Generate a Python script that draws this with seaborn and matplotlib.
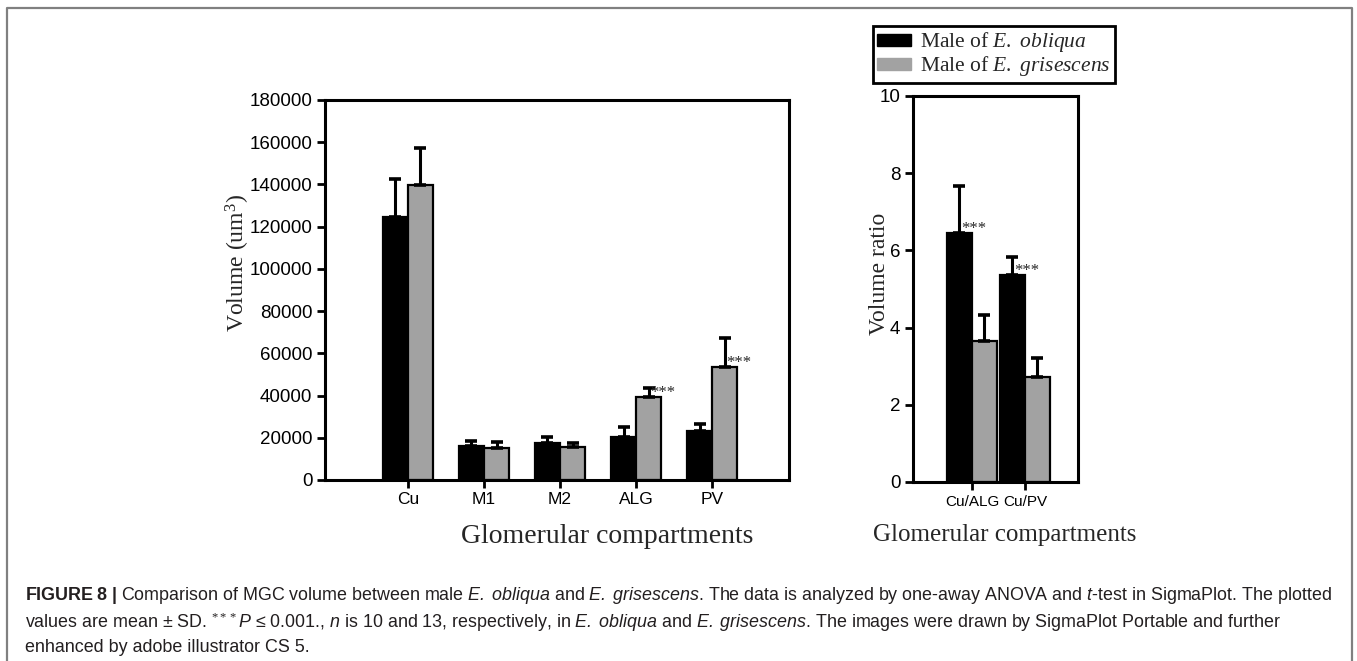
import matplotlib
matplotlib.use("Agg")
import pandas as pd
import matplotlib.pyplot as plt
import seaborn as sns
from matplotlib.patches import Patch
from matplotlib.lines import Line2D

# -----------------------------
# Data
# -----------------------------
species = ["E. obliqua", "E. grisescens"]

compartments = ["Cu", "M1", "M2", "ALG", "PV"]
obliqua_volume = [124500, 16000, 17500, 20200, 23400]
obliqua_volume_sd = [18000, 2300, 2700, 4800, 3000]
grisescens_volume = [139800, 15200, 15800, 39200, 53500]
grisescens_volume_sd = [17600, 3000, 1900, 4200, 13700]

ratios = ["Cu/ALG", "Cu/PV"]
obliqua_ratio = [6.44, 5.35]
obliqua_ratio_sd = [1.23, 0.49]
grisescens_ratio = [3.65, 2.72]
grisescens_ratio_sd = [0.67, 0.48]

# bars that carry the *** mark
volume_stars = [("E. grisescens", "ALG"), ("E. grisescens", "PV")]
ratio_stars = [("E. obliqua", "Cu/ALG"), ("E. obliqua", "Cu/PV")]

volume_df = pd.DataFrame({
    "compartment": compartments * 2,
    "value": obliqua_volume + grisescens_volume,
    "sd": obliqua_volume_sd + grisescens_volume_sd,
    "species": [species[0]] * len(compartments) + [species[1]] * len(compartments),
})
ratio_df = pd.DataFrame({
    "compartment": ratios * 2,
    "value": obliqua_ratio + grisescens_ratio,
    "sd": obliqua_ratio_sd + grisescens_ratio_sd,
    "species": [species[0]] * len(ratios) + [species[1]] * len(ratios),
})

# -----------------------------
# Style
# -----------------------------
sns.set_style("ticks")
plt.rcParams["font.family"] = ["Liberation Sans", "DejaVu Sans"]
plt.rcParams["mathtext.fontset"] = "custom"
plt.rcParams["mathtext.rm"] = "Liberation Serif"
plt.rcParams["mathtext.it"] = "Liberation Serif:italic"
plt.rcParams["mathtext.bf"] = "Liberation Sans:bold"
plt.rcParams["mathtext.sf"] = "Liberation Sans:italic"

BLACK = "#000000"
GRAY = "#a2a2a2"
palette = {species[0]: BLACK, species[1]: GRAY}
SERIF = "Liberation Serif"

W, H = 1357, 661
fig = plt.figure(figsize=(W / 100, H / 100), dpi=100)

ax1 = fig.add_axes([325 / W, 1 - 480 / H, 464 / W, 380 / H])
ax2 = fig.add_axes([913 / W, 1 - 482 / H, 165 / W, 386 / H])


def draw_panel(ax, df, cats, width, stars):
    sns.barplot(
        data=df, x="compartment", y="value", hue="species",
        order=cats, hue_order=species, palette=palette,
        width=width, errorbar=None, edgecolor="black",
        linewidth=1.6, legend=False, ax=ax,
    )
    # upper error bars only, plus the *** marks
    for container, sp in zip(ax.containers, species):
        sub = df[df["species"] == sp].set_index("compartment")
        for bar in container:
            xc = bar.get_x() + bar.get_width() / 2
            cat = cats[int(round(xc))]
            h = bar.get_height()
            ax.errorbar(xc, h, yerr=[[0], [sub.loc[cat, "sd"]]], fmt="none",
                        ecolor="black", elinewidth=2.2, capsize=4,
                        capthick=2.6, zorder=1)
            if (sp, cat) in stars:
                ax.annotate("***", xy=(xc, h), xytext=(1, 0),
                            textcoords="offset points", ha="left",
                            va="baseline", fontsize=12, family=SERIF)
    for s in ax.spines.values():
        s.set_linewidth(2.2)
        s.set_color("black")
    ax.tick_params(direction="out", length=6, width=2, labelsize=13.5,
                   pad=3, colors="black")


draw_panel(ax1, volume_df, compartments, 0.66, volume_stars)
ax1.set_ylim(0, 180000)
ax1.set_yticks(range(0, 180001, 20000))
ax1.set_xlim(-1.09, 5.01)
ax1.tick_params(axis="x", labelsize=12.5)
ax1.set_xlabel("Glomerular compartments", family=SERIF, fontsize=20)
ax1.set_ylabel(r"Volume (um$^{\mathrm{3}}$)", family=SERIF, fontsize=17)
ax1.xaxis.set_label_coords(0.608, -0.148)
ax1.xaxis.label.set_verticalalignment("center")
ax1.yaxis.set_label_coords(-0.187, 0.57)
ax1.yaxis.label.set_verticalalignment("center")

draw_panel(ax2, ratio_df, ratios, 0.94, ratio_stars)
ax2.set_ylim(0, 10)
ax2.set_yticks(range(0, 11, 2))
ax2.set_xlim(-1.11, 2.0)
ax2.tick_params(axis="x", labelsize=11)
ax2.set_xlabel("Glomerular compartments", family=SERIF, fontsize=18)
ax2.set_ylabel("Volume ratio", family=SERIF, fontsize=17)
ax2.xaxis.set_label_coords(0.557, -0.137)
ax2.xaxis.label.set_verticalalignment("center")
ax2.yaxis.set_label_coords(-0.206, 0.54)
ax2.yaxis.label.set_verticalalignment("center")

# -----------------------------
# Legend
# -----------------------------
handles = [Patch(facecolor=BLACK, edgecolor=BLACK),
           Patch(facecolor=GRAY, edgecolor=GRAY)]
labels = [r"Male of $\mathit{E.\ obliqua}$", r"Male of $\mathit{E.\ grisescens}$"]
leg = fig.legend(handles, labels, loc="upper left",
                 bbox_to_anchor=(873 / W, 1 - 26 / H), borderaxespad=0,
                 prop={"family": SERIF, "size": 15.5}, frameon=True,
                 fancybox=False, edgecolor="black", framealpha=1,
                 handlelength=1.55, handleheight=0.5, handletextpad=0.45,
                 borderpad=0.2, labelspacing=0.0)
leg.get_frame().set_linewidth(2)

# -----------------------------
# Frame and caption
# -----------------------------
fig.add_artist(Line2D([7 / W, 7 / W, 1352 / W, 1352 / W],
                      [0, 1 - 8 / H, 1 - 8 / H, 0],
                      transform=fig.transFigure, color="#808080", lw=1.6))

caption = [
    r"$\mathbf{FIGURE\ 8\ |}$ Comparison of MGC volume between male "
    r"$\mathsf{E.\ obliqua}$ and $\mathsf{E.\ grisescens}$. The data is analyzed "
    r"by one-away ANOVA and $\mathsf{t}$-test in SigmaPlot. The plotted",
    r"values are mean ± SD. $^{\mathrm{***}}\mathsf{P}$ ≤ 0.001., $\mathsf{n}$ is 10 "
    r"and 13, respectively, in $\mathsf{E.\ obliqua}$ and $\mathsf{E.\ grisescens}$. "
    r"The images were drawn by SigmaPlot Portable and further",
    "enhanced by adobe illustrator CS 5.",
]
for i, line in enumerate(caption):
    fig.text(25 / W, 1 - (593 + 26 * i) / H, line, fontsize=12.9,
             color="#231f20", ha="left", va="center_baseline")

fig.savefig("out.png", dpi=100)
